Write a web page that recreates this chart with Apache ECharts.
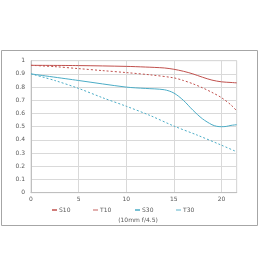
<!DOCTYPE html>
<html><head><meta charset="utf-8">
<script src="https://cdn.jsdelivr.net/npm/echarts@6/dist/echarts.min.js"></script>
<style>html,body{margin:0;padding:0;background:#fff}#c{width:260px;height:280px}</style>
</head><body><div id="c"></div>
<script>
const xTicks = [0, 5, 10, 15, 20];
const yTicks = [0, 0.1, 0.2, 0.3, 0.4, 0.5, 0.6, 0.7, 0.8, 0.9, 1];
const seriesNames = ['S10', 'T10', 'S30', 'T30'];
const subtitle = '(10mm f/4.5)';

const xS10 = [0, 5, 10, 12, 14, 15, 16, 17, 18, 19, 20, 21, 21.6];
const S10 = [0.965, 0.963, 0.957, 0.952, 0.945, 0.935, 0.92, 0.90, 0.875, 0.853, 0.84, 0.835, 0.832];
const xT10 = [0, 2.5, 5, 7.5, 10, 12.5, 15, 16, 17, 18, 19, 20, 21, 21.6];
const T10 = [0.965, 0.955, 0.94, 0.925, 0.91, 0.893, 0.87, 0.85, 0.825, 0.795, 0.76, 0.72, 0.665, 0.62];
const xS30 = [0, 5, 10, 12, 14, 15, 16, 17, 18, 19, 19.5, 20, 20.5, 21, 21.6];
const S30 = [0.90, 0.85, 0.80, 0.79, 0.78, 0.755, 0.70, 0.625, 0.56, 0.515, 0.503, 0.50, 0.502, 0.51, 0.515];
const xT30 = [0, 2.5, 5, 7.5, 10, 12.5, 15, 17.5, 20, 21.6];
const T30 = [0.90, 0.85, 0.79, 0.72, 0.655, 0.585, 0.505, 0.435, 0.36, 0.31];

const red = '#c0504d', teal = '#4bacc6';
const txt = '#595959';
function pairs(xs, ys) { return xs.map((x, i) => [x, ys[i]]); }

const chart = echarts.init(document.getElementById('c'));
const legendX = [47, 88, 130, 171];
chart.setOption({
  animation: false,
  title: { text: subtitle, left: 133, top: 212, textAlign: 'center',
    textStyle: { fontSize: 6, fontWeight: 'normal', color: txt, fontFamily: 'DejaVu Sans' } },
  legend: seriesNames.map((n, i) => ({
    data: [n], left: legendX[i], top: 202, icon: 'rect', itemWidth: 5, itemHeight: 1.5, itemGap: 2,
    textStyle: { fontSize: 6, color: txt, fontFamily: 'DejaVu Sans', padding: [0, 0, 0, -3] }
  })),
  graphic: [{ type: 'rect', shape: { x: 1.5, y: 50.5, width: 256, height: 175 },
    style: { fill: 'none', stroke: '#a6a6a6', lineWidth: 1 }, z: -1 }],
  grid: { left: 31, right: 23.3, top: 60.7, bottom: 87.3, show: true, borderColor: '#d9d9d9', borderWidth: 1 },
  xAxis: { type: 'value', min: 0, max: 21.6, interval: 5,
    axisLine: { show: true, lineStyle: { color: '#bfbfbf' } },
    axisTick: { show: false },
    axisLabel: { fontSize: 6, color: txt, margin: 4, showMaxLabel: false, fontFamily: 'DejaVu Sans' },
    splitLine: { show: true, lineStyle: { color: '#d9d9d9', width: 1 } } },
  yAxis: { type: 'value', min: 0, max: 1, interval: 0.1,
    axisLine: { show: true, lineStyle: { color: '#bfbfbf' } },
    axisTick: { show: false },
    axisLabel: { fontSize: 6, color: txt, margin: 6, fontFamily: 'DejaVu Sans',
      formatter: v => String(Math.round(v * 10) / 10) },
    splitLine: { show: true, lineStyle: { color: '#d9d9d9', width: 1 } } },
  series: [
    { name: 'S10', type: 'line', data: pairs(xS10, S10), smooth: 0.3, showSymbol: false, symbol: 'none',
      lineStyle: { color: red, width: 1 }, itemStyle: { color: red } },
    { name: 'T10', type: 'line', data: pairs(xT10, T10), smooth: 0.3, showSymbol: false, symbol: 'none',
      lineStyle: { color: red, width: 1, type: [2, 2] }, itemStyle: { color: '#d99694' } },
    { name: 'S30', type: 'line', data: pairs(xS30, S30), smooth: 0.3, showSymbol: false, symbol: 'none',
      lineStyle: { color: teal, width: 1 }, itemStyle: { color: teal } },
    { name: 'T30', type: 'line', data: pairs(xT30, T30), smooth: 0.3, showSymbol: false, symbol: 'none',
      lineStyle: { color: teal, width: 1, type: [2, 2] }, itemStyle: { color: '#92cddc' } }
  ]
});
</script></body></html>
